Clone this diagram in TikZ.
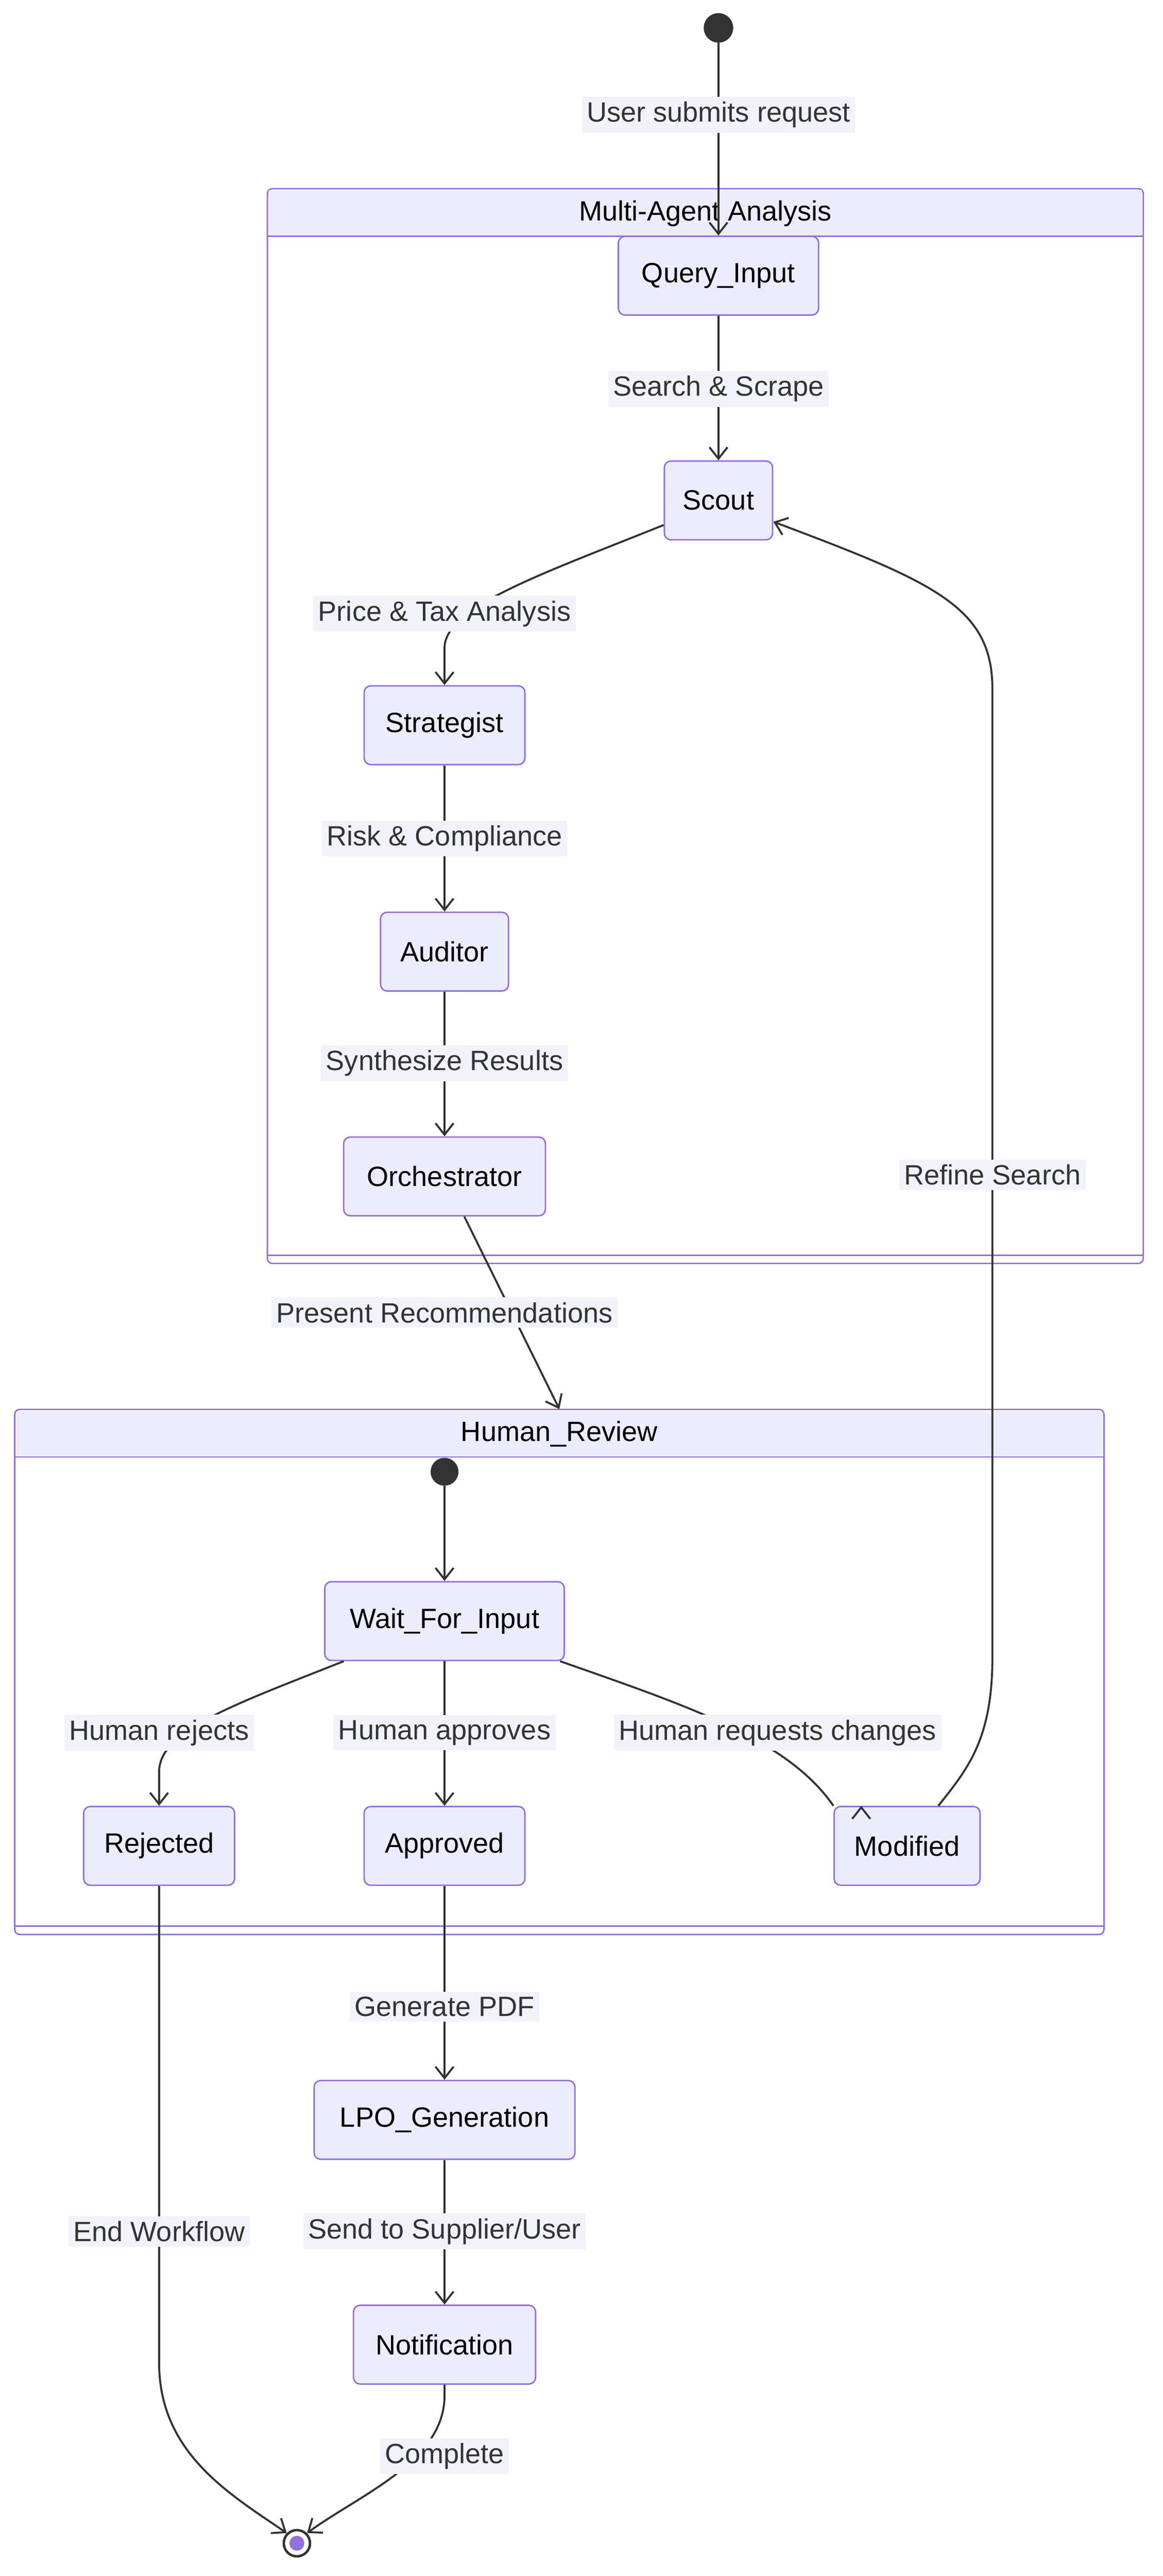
\documentclass[tikz,border=0pt]{standalone}
\usepackage{fontspec}
\setmainfont{Liberation Sans}
\usetikzlibrary{arrows.meta}
\definecolor{nfill}{HTML}{ECECFF}
\definecolor{nline}{HTML}{9370DB}
\definecolor{ink}{HTML}{333333}
\definecolor{lbg}{HTML}{F2F2FA}
\begin{document}
\begin{tikzpicture}[x=1pt,y=-1pt,
  st/.style={draw=nline,fill=nfill,rounded corners=4pt,line width=0.9pt,minimum height=48pt,inner xsep=0pt,font=\fontsize{17pt}{20pt}\selectfont,text=black},
  lb/.style={fill=lbg,inner sep=3pt,font=\fontsize{17pt}{20pt}\selectfont,text=ink},
  ed/.style={draw=ink,line width=1.2pt,-{Straight Barb[length=7pt,width=11pt]}},
  cl/.style={draw=nline,fill=none,line width=0.9pt,rounded corners=3pt}]
\useasboundingbox (0,0) rectangle (709,1570);
% clusters
\draw[cl,fill=white] (163,115) rectangle (697,770);
\fill[nfill] (164,116) rectangle (696,144);
\draw[nline,line width=0.9pt] (163,144) -- (697,144) (163,765) -- (697,765);
\node[font=\fontsize{17pt}{20pt}\selectfont] (t1) at (430,130) {Multi-Agent Analysis};
\node[draw=none,minimum width=664pt,minimum height=320pt,inner sep=0pt] (hr) at (341,1019) {};
\draw[cl] (9,859) rectangle (673,1179);
\fill[nfill] (10,860) rectangle (672,888);
\draw[nline,line width=0.9pt] (9,888) -- (673,888) (9,1174) -- (673,1174);
\node[font=\fontsize{17pt}{20pt}\selectfont] (t2) at (341,874) {Human\_Review};
% states
\node[circle,fill=ink,minimum size=18pt,inner sep=0pt] (s0) at (438,17) {};
\node[st,minimum width=122pt] (q) at (438,168) {Query\_Input};
\node[st,minimum width=66pt] (sc) at (438,305) {Scout};
\node[st,minimum width=98pt] (sg) at (271,442) {Strategist};
\node[st,minimum width=78pt] (au) at (271,580) {Auditor};
\node[st,minimum width=123pt] (or) at (271,717) {Orchestrator};
\node[circle,fill=ink,minimum size=17pt,inner sep=0pt] (s1) at (271,897) {};
\node[st,minimum width=146pt] (wf) at (271,988) {Wait\_For\_Input};
\node[st,minimum width=92pt] (rj) at (97,1125) {Rejected};
\node[st,minimum width=98pt] (ap) at (271,1125) {Approved};
\node[st,minimum width=89pt] (md) at (553,1125) {Modified};
\node[st,minimum width=159pt] (lpo) at (271,1292) {LPO\_Generation};
\node[st,minimum width=111pt] (nt) at (271,1429) {Notification};
\node[circle,draw=ink,line width=1.5pt,minimum size=16pt,inner sep=0pt] (se) at (181,1550) {};
\fill[nline] (se) circle (4.5pt);
% edges
\draw[ed] (s0) -- (q);
\draw[ed] (q) -- (sc);
\draw[ed] (sc.west|-0,320) .. controls (330,350) and (271,370) .. (271,395) -- (sg.north);
\draw[ed] (sg) -- (au);
\draw[ed] (au) -- (or);
\draw[ed] (or) -- (hr.north);
\draw[ed] (s1) -- (wf);
\draw[ed] (wf.south west)++(12,0) .. controls (140,1040) and (97,1055) .. (97,1080) -- (rj.north);
\draw[ed] (wf) -- (ap);
\draw[ed] (wf.south east)++(-3,0) .. controls (420,1040) and (480,1060) .. (md.north west)++(17,0);
\draw[ed] (md.north west)++(64,0) .. controls (590,1078) and (605,1060) .. (605,1010) -- (605,420) .. controls (605,370) and (570,355) .. (sc.east|-0,318);
\draw[ed] (ap) -- (lpo);
\draw[ed] (lpo) -- (nt);
\draw[ed] (rj.south) -- (97,1440) .. controls (97,1495) and (140,1520) .. (se.north west);
\draw[ed] (nt.south) -- (271,1460) .. controls (271,1500) and (220,1520) .. (se.north east);
% labels
\node[lb] (l1) at (438,70) {User submits request};
\node[lb] (l2) at (438,237) {Search \& Scrape};
\node[lb] (l3) at (271,374) {Price \& Tax Analysis};
\node[lb] (l4) at (271,511) {Risk \& Compliance};
\node[lb] (l5) at (271,648) {Synthesize Results};
\node[lb] (l6) at (605,716) {Refine Search};
\node[lb] (l7) at (271,800) {Present Recommendations};
\node[lb] (l8) at (97,1056) {Human rejects};
\node[lb] (l9) at (271,1056) {Human approves};
\node[lb] (l10) at (474,1056) {Human requests changes};
\node[lb] (l11) at (271,1223) {Generate PDF};
\node[lb] (l12) at (97,1360) {End Workflow};
\node[lb] (l13) at (271,1360) {Send to Supplier/User};
\node[lb] (l14) at (271,1497) {Complete};
\end{tikzpicture}
\end{document}
